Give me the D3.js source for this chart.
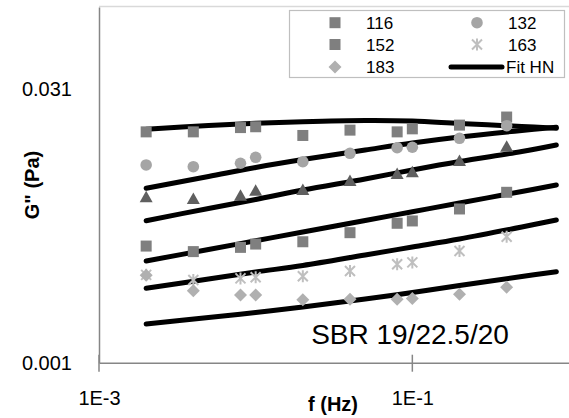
<!DOCTYPE html>
<html>
<head>
<meta charset="utf-8">
<script src="https://cdn.jsdelivr.net/npm/d3@7"></script>
<style>
  html, body { margin: 0; padding: 0; background: #fff; }
  svg { display: block; font-family: "Liberation Sans", Arial, sans-serif; }
</style>
</head>
<body>
<svg id="chart" width="569" height="418"></svg>
<script>
// ---- data ----
const freqs = [0.002, 0.004, 0.008, 0.01, 0.02, 0.04, 0.08, 0.1, 0.2, 0.4];
const g116 = [0.0181, 0.0181, 0.0191, 0.0193, 0.0173, 0.0185, 0.0181, 0.0188, 0.0197, 0.0218];
const g132 = [0.01195, 0.01169, 0.01221, 0.01316, 0.01245, 0.01383, 0.01484, 0.01492, 0.0167, 0.01956];
const gTri = [0.00797, 0.0078, 0.00813, 0.00866, 0.00873, 0.00978, 0.01067, 0.0109, 0.01256, 0.01503];
const g152 = [0.00432, 0.00403, 0.00425, 0.00443, 0.00456, 0.00511, 0.00575, 0.00592, 0.00688, 0.00848];
const g163 = [0.00301, 0.00282, 0.00288, 0.00292, 0.00296, 0.00316, 0.00344, 0.00352, 0.00406, 0.00486];
const g183 = [0.00300, 0.00247, 0.00234, 0.00234, 0.00220, 0.00222, 0.00222, 0.00224, 0.00236, 0.00258];

const fitFreqs = [0.002, 0.005, 0.01, 0.02, 0.05, 0.1, 0.2, 0.5, 0.83];
const fit116 = [0.01870, 0.01961, 0.02016, 0.02057, 0.02088, 0.02075, 0.02011, 0.01937, 0.01894];
const fit132 = [0.008918, 0.01034, 0.01158, 0.0128, 0.01442, 0.01575, 0.01698, 0.01842, 0.01917];
const fitTri = [0.00594, 0.006923, 0.00775, 0.008731, 0.01002, 0.01122, 0.01248, 0.01415, 0.01536];
const fit152 = [0.003582, 0.004138, 0.004616, 0.005155, 0.005955, 0.006641, 0.007417, 0.008568, 0.009296];
const fit163 = [0.002543, 0.002858, 0.003121, 0.003386, 0.003863, 0.00427, 0.004721, 0.005488, 0.005992];
const fit183 = [0.001625, 0.001763, 0.001877, 0.002011, 0.002224, 0.002413, 0.002634, 0.002949, 0.003132];

const xTicks = [0.001, 0.1];
const xTickLabels = ["1E-3", "1E-1"];
const yTicks = [0.001, 0.031];
const yTickLabels = ["0.001", "0.031"];
const xDomain = [0.001, 1];
const yDomain = [0.001, 0.0867];
const legendLabels = ["116", "132", "152", "163", "183", "Fit HN"];
const annotation = "SBR 19/22.5/20";

// ---- layout ----
const svg = d3.select("#chart");
const L = 99, R = 569, T = 7, B = 362.7;
const x = d3.scaleLog().domain(xDomain).range([L, R]);
const y = d3.scaleLog().domain(yDomain).range([B, T]);

// top light border
svg.append("line").attr("x1", L).attr("x2", R).attr("y1", T - 0.5).attr("y2", T - 0.5)
  .attr("stroke", "#d9d9d9").attr("stroke-width", 1.5);

// fit lines
const lineGen = d3.line().x(d => x(d[0])).y(d => y(d[1])).curve(d3.curveCatmullRom.alpha(0.5));
const fits = [fit116, fit132, fitTri, fit152, fit163, fit183];
fits.forEach(f => {
  svg.append("path")
    .attr("d", lineGen(fitFreqs.map((fr, i) => [fr, f[i]])))
    .attr("fill", "none").attr("stroke", "#000").attr("stroke-width", 5)
    .attr("stroke-linecap", "round");
});

// markers
function drawMarker(g, type, cx, cy, color) {
  if (type === "square") {
    g.append("rect").attr("x", cx - 5.5).attr("y", cy - 5.5).attr("width", 11).attr("height", 11).attr("fill", color);
  } else if (type === "circle") {
    g.append("circle").attr("cx", cx).attr("cy", cy).attr("r", 5.8).attr("fill", color);
  } else if (type === "triangle") {
    g.append("path").attr("d", `M${cx},${cy - 6.5}L${cx + 6.5},${cy + 5}L${cx - 6.5},${cy + 5}Z`).attr("fill", color);
  } else if (type === "diamond") {
    g.append("path").attr("d", `M${cx},${cy - 6.5}L${cx + 6.5},${cy}L${cx},${cy + 6.5}L${cx - 6.5},${cy}Z`).attr("fill", color);
  } else if (type === "star") {
    const s = 5;
    g.append("path").attr("d",
      `M${cx - s},${cy - s}L${cx + s},${cy + s}M${cx - s},${cy + s}L${cx + s},${cy - s}M${cx},${cy - s - 1}L${cx},${cy + s + 1}`)
      .attr("stroke", color).attr("stroke-width", 2).attr("fill", "none");
  }
}
const series = [
  { vals: g116, type: "square", color: "#7f7f7f" },
  { vals: g132, type: "circle", color: "#a5a5a5" },
  { vals: gTri, type: "triangle", color: "#5f5f5f" },
  { vals: g152, type: "square", color: "#7f7f7f" },
  { vals: g163, type: "star", color: "#bfbfbf" },
  { vals: g183, type: "diamond", color: "#b0b0b0" }
];
series.forEach(s => {
  const g = svg.append("g");
  freqs.forEach((fr, i) => drawMarker(g, s.type, x(fr), y(s.vals[i]), s.color));
});

// axes
const axisColor = "#868686";
const xAxis = svg.append("g").attr("transform", `translate(0,${B})`)
  .call(d3.axisBottom(x).tickValues(xTicks).tickSize(0).tickPadding(28)
    .tickFormat((d, i) => xTickLabels[i]));
xAxis.select(".domain").attr("stroke", axisColor).attr("stroke-width", 1.5);
xAxis.selectAll(".tick text").attr("font-size", 20).attr("fill", "#000")
  .attr("font-family", "Liberation Sans, Arial, sans-serif");
xTicks.forEach(t => {
  svg.append("line").attr("x1", x(t)).attr("x2", x(t)).attr("y1", B - 8).attr("y2", B + 9)
    .attr("stroke", axisColor).attr("stroke-width", 1.5);
});

const yAxis = svg.append("g").attr("transform", `translate(${L},0)`)
  .call(d3.axisLeft(y).tickValues(yTicks).tickSize(0).tickPadding(27)
    .tickFormat((d, i) => yTickLabels[i]));
yAxis.select(".domain").attr("stroke", axisColor).attr("stroke-width", 1.5);
yAxis.selectAll(".tick text").attr("font-size", 20).attr("fill", "#000")
  .attr("font-family", "Liberation Sans, Arial, sans-serif");

// axis titles
svg.append("text").attr("x", 333).attr("y", 411).attr("text-anchor", "middle")
  .attr("font-size", 20).attr("font-weight", "bold").text("f (Hz)");
svg.append("text").attr("transform", "translate(39,185) rotate(-90)").attr("text-anchor", "middle")
  .attr("font-size", 20).attr("font-weight", "bold").text('G" (Pa)');

// annotation
svg.append("text").attr("x", 410).attr("y", 344).attr("text-anchor", "middle")
  .attr("font-size", 28).text(annotation);

// legend
const lg = svg.append("g");
lg.append("rect").attr("x", 289.5).attr("y", 10.5).attr("width", 275).attr("height", 67)
  .attr("fill", "#fff").attr("stroke", "#bfbfbf").attr("stroke-width", 1.2);
const rows = [22.7, 44.5, 67];
const legendItems = [
  { label: legendLabels[0], type: "square", color: "#7f7f7f", mx: 335, tx: 366, ry: rows[0] },
  { label: legendLabels[1], type: "circle", color: "#a5a5a5", mx: 477, tx: 508, ry: rows[0] },
  { label: legendLabels[2], type: "square", color: "#7f7f7f", mx: 335, tx: 366, ry: rows[1] },
  { label: legendLabels[3], type: "star", color: "#bfbfbf", mx: 477, tx: 508, ry: rows[1] },
  { label: legendLabels[4], type: "diamond", color: "#b0b0b0", mx: 335, tx: 366, ry: rows[2] },
  { label: legendLabels[5], type: "line", color: "#000", mx: 477, tx: 506, ry: rows[2] }
];
legendItems.forEach(it => {
  if (it.type === "line") {
    lg.append("line").attr("x1", 451).attr("x2", 502).attr("y1", it.ry).attr("y2", it.ry)
      .attr("stroke", "#000").attr("stroke-width", 5).attr("stroke-linecap", "round");
  } else {
    drawMarker(lg, it.type, it.mx, it.ry, it.color);
  }
  lg.append("text").attr("x", it.tx).attr("y", it.ry + 6).attr("font-size", 17).attr("fill", "#000").text(it.label);
});
</script>
</body>
</html>
